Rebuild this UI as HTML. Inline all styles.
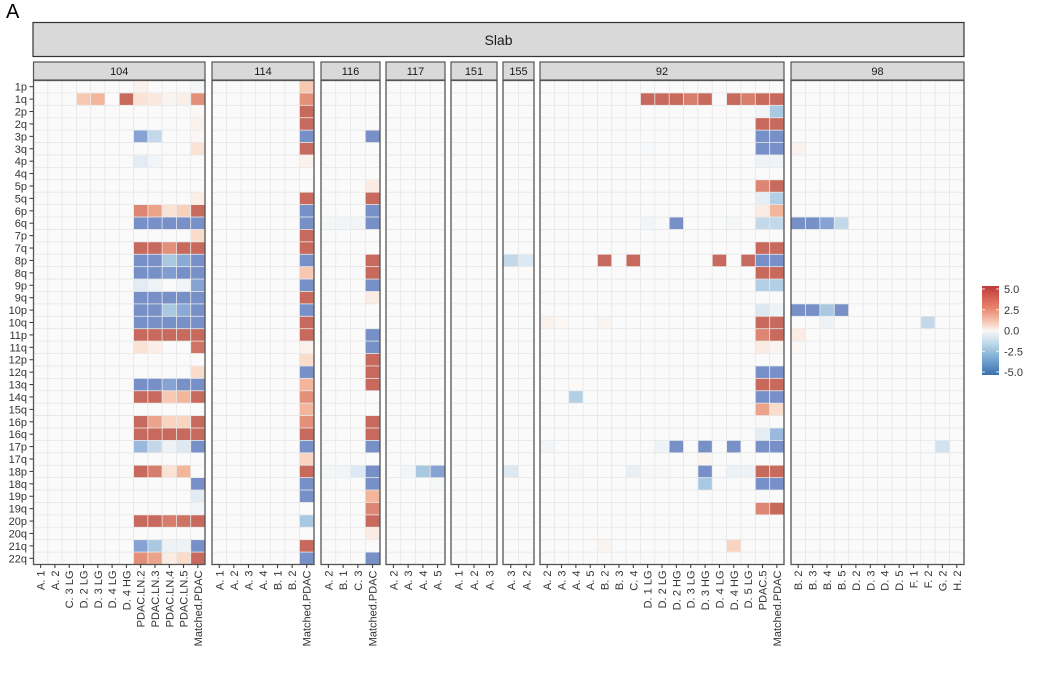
<!DOCTYPE html>
<html><head><meta charset="utf-8">
<style>
html,body{margin:0;padding:0;background:#fff;}
svg{display:block;font-family:"Liberation Sans",Arial,sans-serif;}
</style></head>
<body>
<svg id="chart" width="1038" height="687" viewBox="0 0 1038 687">
  <text x="6" y="18" font-size="20" fill="#000">A</text>
  <rect x="33" y="22.5" width="931" height="34" fill="#d9d9d9" stroke="#333" stroke-width="1.2"/>
  <text x="498.5" y="45" font-size="14" text-anchor="middle" fill="#1a1a1a">Slab</text>
  <g id="panels"></g>
  <g id="legend"></g>
</svg>
<script>
const rowLabels = ["1p","1q","2p","2q","3p","3q","4p","4q","5p","5q","6p","6q","7p","7q","8p","8q","9p","9q","10p","10q","11p","11q","12p","12q","13q","14q","15q","16p","16q","17p","17q","18p","18q","19p","19q","20p","20q","21q","22q"];
const panelNames = ["104","114","116","117","151","155","92","98"];
const cols104 = ["A. 1","A. 2","C. 3 LG","D. 2 LG","D. 3 LG","D. 4 LG","D. 4 HG","PDAC.LN.2","PDAC.LN.3","PDAC.LN.4","PDAC.LN.5","Matched.PDAC"];
const cols114 = ["A. 1","A. 2","A. 3","A. 4","B. 1","B. 2","Matched.PDAC"];
const cols116 = ["A. 2","B. 1","C. 3","Matched.PDAC"];
const cols117 = ["A. 2","A. 3","A. 4","A. 5"];
const cols151 = ["A. 1","A. 2","A. 3"];
const cols155 = ["A. 3","A. 2"];
const cols92 = ["A. 2","A. 3","A. 4","A. 5","B. 2","B. 3","C. 4","D. 1 LG","D. 2 LG","D. 2 HG","D. 3 LG","D. 3 HG","D. 4 LG","D. 4 HG","D. 5 LG","PDAC.5","Matched.PDAC"];
const cols98 = ["B. 2","B. 3","B. 4","B. 5","D. 2","D. 3","D. 4","D. 5","F. 1","F. 2","G. 2","H. 2"];
const legendTicks = [5.0,2.5,0.0,-2.5,-5.0];
const legendTickLabels = ["5.0","2.5","0.0","-2.5","-5.0"];

const vals104 = [
["1p",7,.3],["1p",11,-.2],
["1q",3,1.5],["1q",4,2],["1q",6,5],["1q",7,.8],["1q",8,.6],["1q",9,.2],["1q",10,.4],["1q",11,3],
["2p",11,.1],["2q",11,.3],
["3p",7,-3.5],["3p",8,-1.5],["3p",11,.1],["3q",11,.8],
["4p",7,-.8],["4p",8,-.3],["5q",11,.4],
["6p",7,3.5],["6p",8,2.5],["6p",9,.8],["6p",10,1.3],["6p",11,5],
["6q",7,-5],["6q",8,-5],["6q",9,-5],["6q",10,-5],["6q",11,-5],
["7p",11,1],
["7q",7,5],["7q",8,5],["7q",9,3],["7q",10,5],["7q",11,5],
["8p",7,-5],["8p",8,-5],["8p",9,-2],["8p",10,-3],["8p",11,-5],
["8q",7,-5],["8q",8,-5],["8q",9,-4],["8q",10,-5],["8q",11,-5],
["9p",7,-.8],["9p",8,-.4],["9p",10,-.3],["9p",11,-3.5],
["9q",7,-5],["9q",8,-5],["9q",9,-5],["9q",10,-5],["9q",11,-5],
["10p",7,-5],["10p",8,-5],["10p",9,-2],["10p",10,-3],["10p",11,-5],
["10q",7,-5],["10q",8,-5],["10q",9,-5],["10q",10,-5],["10q",11,-5],
["11p",7,5],["11p",8,5],["11p",9,5],["11p",10,5],["11p",11,5],
["11q",7,.8],["11q",8,.4],["11q",11,4.5],
["12q",11,1],
["13q",7,-5],["13q",8,-5],["13q",9,-3.5],["13q",10,-5],["13q",11,-5],
["14q",7,5],["14q",8,5],["14q",9,1.5],["14q",10,2],["14q",11,5],
["16p",7,5],["16p",8,2.5],["16p",9,1.2],["16p",10,1.2],["16p",11,5],
["16q",7,5],["16q",8,5],["16q",9,5],["16q",10,5],["16q",11,5],
["17p",7,-2.5],["17p",8,-1.5],["17p",9,-.5],["17p",10,-1],["17p",11,-5],
["18p",7,5],["18p",8,4],["18p",9,.8],["18p",10,2],
["18q",11,-5],["19p",11,-.8],["19q",11,-.3],
["20p",7,5],["20p",8,5],["20p",9,4],["20p",10,4.5],["20p",11,5],
["21q",7,-3.5],["21q",8,-2],["21q",9,-.5],["21q",10,-.5],["21q",11,-5],
["22q",7,3],["22q",8,2.5],["22q",9,.5],["22q",10,1],["22q",11,5]
];
const vals114 = [
["1p",6,1.5],["1q",6,3],["2p",6,5],["2q",6,5],["3p",6,-5],["3q",6,5],["4p",6,.3],["5q",6,5],
["6p",6,-5],["6q",6,-5],["7p",6,5],["7q",6,5],["8p",6,-5],["8q",6,1.5],["9p",6,-5],["9q",6,5],
["10p",6,-5],["10q",6,5],["11p",6,5],["11q",6,.3],["12p",6,1],["12q",6,-5],["13q",6,2],["14q",6,3],
["15q",6,2],["16p",6,3],["16q",6,5],["17p",6,-5],["17q",6,1.2],["18p",6,5],["18q",6,-5],["19p",6,-5],
["20p",6,-2],["21q",6,5],["22q",6,-5]
];
const vals116 = [
["3p",3,-5],["5p",3,.5],["5q",3,5],["6p",3,-5],["6q",0,-.2],["6q",1,-.3],["6q",2,-.3],["6q",3,-5],
["8p",3,5],["8q",2,-.1],["8q",3,5],["9p",3,-5],["9q",3,.5],
["11p",3,-5],["11q",3,-5],["12p",3,5],["12q",3,5],["13q",3,5],["16p",3,5],["16q",3,5],["17p",3,-5],
["18p",0,-.2],["18p",1,-.3],["18p",2,-1],["18p",3,-5],["18q",3,-5],["19p",3,2],["19q",3,3.5],["20p",3,5],["20q",3,.5],["22q",3,-5]
];
const vals117 = [["18p",1,-.3],["18p",2,-2],["18p",3,-3.5],["18q",3,-.2]];
const vals151 = [];
const vals155 = [["8p",0,-1.5],["8p",1,-1],["18p",0,-1]];
const vals92 = [
["1q",7,5],["1q",8,5],["1q",9,5],["1q",10,4],["1q",11,5],["1q",13,5],["1q",14,4],["1q",15,5],["1q",16,5],
["2p",15,-.3],["2p",16,-2],["2q",15,5],["2q",16,5],["3p",15,-5],["3p",16,-5],["3q",7,-.1],["3q",15,-5],["3q",16,-5],
["4p",15,-.4],["4p",16,-.4],["5p",15,3.5],["5p",16,5],["5q",15,-.7],["5q",16,-1.8],["6p",15,.5],["6p",16,2],
["6q",7,-.3],["6q",8,-.1],["6q",9,-5],["6q",13,-.2],["6q",15,-1.5],["6q",16,-1.5],
["7q",15,5],["7q",16,5],
["8p",4,5],["8p",6,5],["8p",12,5],["8p",14,5],["8p",15,-5],["8p",16,-5],
["8q",15,5],["8q",16,5],["9p",15,-1.8],["9p",16,-1.8],["10p",15,-1],["10p",16,-.4],
["10q",0,.3],["10q",1,.1],["10q",4,.2],["10q",15,5],["10q",16,5],
["11p",15,3.5],["11p",16,5],["11q",15,.5],["11q",16,.2],["12q",15,-5],["12q",16,-5],["13q",15,5],["13q",16,5],
["14q",2,-1.8],["14q",15,-5],["14q",16,-5],["15q",15,2.5],["15q",16,1],["16p",15,-.1],
["16q",15,-.7],["16q",16,-2.5],
["17p",0,-.3],["17p",8,-.4],["17p",9,-5],["17p",11,-5],["17p",13,-5],["17p",15,-5],["17p",16,-5],
["17q",11,.2],
["18p",2,-.1],["18p",6,-.6],["18p",7,-.1],["18p",8,-.1],["18p",11,-5],["18p",13,-.5],["18p",14,-.5],["18p",15,5],["18p",16,5],
["18q",11,-2],["18q",15,-5],["18q",16,-5],["19p",15,-.1],["19q",15,3.5],["19q",16,5],
["21q",4,.2],["21q",13,1.2]
];
const vals98 = [
["3q",0,.3],["6q",0,-5],["6q",1,-5],["6q",2,-3.5],["6q",3,-1.5],
["10p",0,-5],["10p",1,-5],["10p",2,-2],["10p",3,-5],["10q",2,-.5],["10q",9,-1.5],
["11p",0,.5],["11q",0,.1],["17p",10,-1.2]
];

const panelCols = [cols104,cols114,cols116,cols117,cols151,cols155,cols92,cols98];
const panelVals = [vals104,vals114,vals116,vals117,vals151,vals155,vals92,vals98];
const panelLeft = [33.5,212,321,386,451,503,540,791];
const panelRight = [205,314,380,445,497,534,784,964];

const NS="http://www.w3.org/2000/svg";
const yTop=80.5, yBot=564.5;
const cellH=(yBot-yTop)/rowLabels.length;
function yPos(r){return yTop+rowLabels.indexOf(r)*cellH;}
const colorStops=[[-5,[120,144,200]],[-3,[138,169,214]],[-2,[169,200,226]],[-1,[221,233,242]],[0,[250,250,250]],[1,[250,220,203]],[2,[243,182,154]],[3,[227,144,122]],[5,[200,105,93]]];
function cellColor(v){
  v=Math.max(-5,Math.min(5,v));
  for(let i=0;i<colorStops.length-1;i++){
    const a=colorStops[i],b=colorStops[i+1];
    if(v>=a[0]&&v<=b[0]){const t=(v-a[0])/(b[0]-a[0]);
      const c=a[1].map((x,k)=>Math.round(x+(b[1][k]-x)*t));return "rgb("+c.join(",")+")";}
  }
  return "#fafafa";
}
function mk(tag,attrs,parent){const e=document.createElementNS(NS,tag);for(const k in attrs)e.setAttribute(k,attrs[k]);parent.appendChild(e);return e;}
const pgRoot=document.getElementById("panels");

rowLabels.forEach(r=>{
  const y=yPos(r)+cellH/2;
  const t=mk("text",{x:27,y:y+4,"font-size":11,"text-anchor":"end",fill:"#333"},pgRoot);
  t.textContent=r;
  
  
  mk("line",{x1:29.5,x2:33,y1:y,y2:y,stroke:"#333","stroke-width":1},pgRoot);
});

panelNames.forEach((name,pi)=>{
  const cols=panelCols[pi], vals=panelVals[pi];
  const x0=panelLeft[pi];
  const w=panelRight[pi]-x0;
  const cellW=w/cols.length;
  const pg=mk("g",{},pgRoot);
  
  
  mk("rect",{x:x0,y:yTop,width:w,height:yBot-yTop,fill:"#fafafa"},pg);
  for(let c=0;c<=cols.length;c++) mk("line",{x1:x0+c*cellW,x2:x0+c*cellW,y1:yTop,y2:yBot,stroke:"#e6e6e6","stroke-width":0.8},pg);
  for(let r=0;r<=rowLabels.length;r++) mk("line",{x1:x0,x2:x0+w,y1:yTop+r*cellH,y2:yTop+r*cellH,stroke:"#e6e6e6","stroke-width":0.8},pg);
  vals.forEach(v=>{
    const rc=mk("rect",{x:x0+v[1]*cellW+0.4,y:yPos(v[0])+0.4,width:cellW-0.8,height:cellH-0.8,fill:cellColor(v[2])},pg);
    
    
  });
  mk("rect",{x:x0,y:yTop,width:w,height:yBot-yTop,fill:"none",stroke:"#555","stroke-width":1.3},pg);
  const st=mk("rect",{x:x0,y:62,width:w,height:18,fill:"#d9d9d9",stroke:"#555","stroke-width":1.2},pg);
  
  
  const sl=mk("text",{x:x0+w/2,y:75,"font-size":11,"text-anchor":"middle",fill:"#1a1a1a"},pg);
  sl.textContent=name;
  
  
  cols.forEach((c,ci)=>{
    const cx=x0+ci*cellW+cellW/2;
    mk("line",{x1:cx,x2:cx,y1:yBot,y2:yBot+3.5,stroke:"#333","stroke-width":1},pg);
    const t=mk("text",{x:0,y:0,"font-size":11,"text-anchor":"end",fill:"#333",transform:"translate("+(cx+4)+","+(yBot+6)+") rotate(-90)"},pg);
    t.textContent=c;
    
    
  });
});

const lg=document.getElementById("legend");
const defs=mk("defs",{},lg);
const grad=mk("linearGradient",{id:"lgGrad",x1:0,y1:0,x2:0,y2:1},defs);
[["0","#c0393b"],["0.25","#e8866c"],["0.45","#f8dccd"],["0.5","#f7f7f7"],["0.6","#d2e3ef"],["0.78","#86b5d8"],["1","#3b6fb0"]].forEach(s=>mk("stop",{offset:s[0],"stop-color":s[1]},grad));
const lgTop=286, lgBot=375;
mk("rect",{x:982,y:lgTop,width:17,height:lgBot-lgTop,fill:"url(#lgGrad)"},lg);
legendTicks.forEach((v,i)=>{
  const y=lgTop+3+(5-v)/10*(lgBot-lgTop-6);
  mk("line",{x1:982,x2:985,y1:y,y2:y,stroke:"#fff","stroke-width":0.8},lg);
  mk("line",{x1:996,x2:999,y1:y,y2:y,stroke:"#fff","stroke-width":0.8},lg);
  const t=mk("text",{x:1004,y:y+4,"font-size":11,fill:"#333"},lg);
  t.textContent=legendTickLabels[i];
  
  
});
</script>
</body></html>
